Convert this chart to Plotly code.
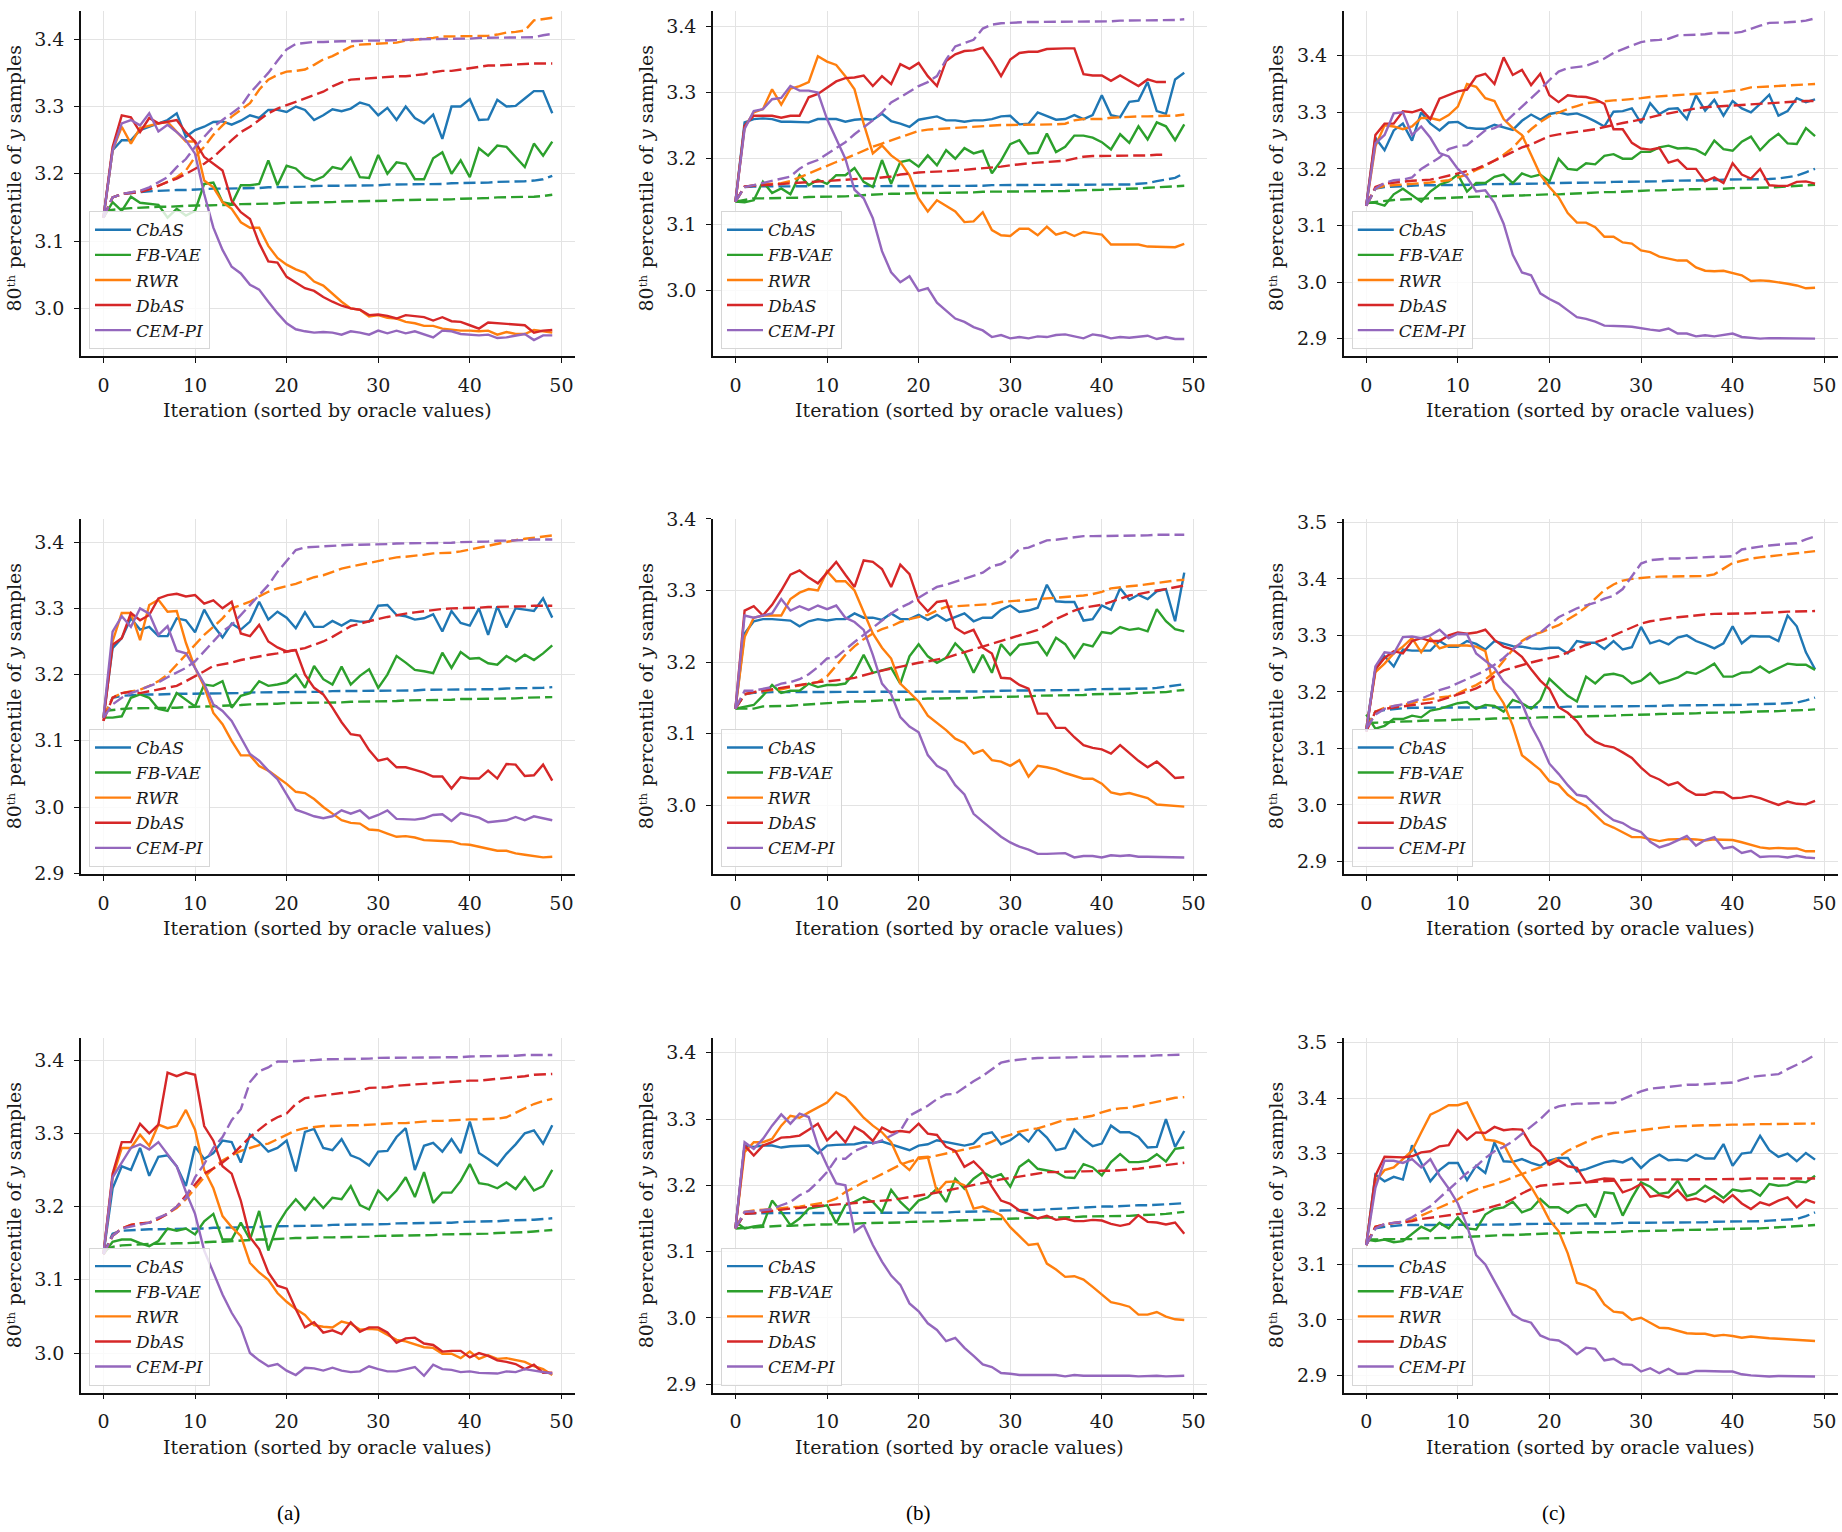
import plotly.graph_objects as go

W, H = 1842, 1532
METHODS = ["CbAS", "FB-VAE", "RWR", "DbAS", "CEM-PI"]
COLORS = ["#1f77b4", "#2ca02c", "#ff7f0e", "#d62728", "#9467bd"]
XTICKS = [0, 10, 20, 30, 40, 50]
PANEL_LABELS = ["(a)", "(b)", "(c)"]
Y_TITLE = "80ᵗʰ percentile of <i>y</i> samples"
X_TITLE = "Iteration (sorted by oracle values)"

# ---------------- panel 1 (row 1, col a) ----------------
p1_cbas = [3.135,3.235,3.250,3.250,3.265,3.270,3.275,3.280,3.290,3.255,3.265,3.270,3.277,3.278,3.273,3.279,3.287,3.283,3.295,3.295,3.292,3.300,3.295,3.280,3.287,3.296,3.293,3.297,3.306,3.302,3.287,3.298,3.280,3.300,3.283,3.275,3.288,3.252,3.300,3.300,3.311,3.280,3.281,3.310,3.300,3.301,3.312,3.323,3.323,3.290]
p1_fbvae = [3.135,3.158,3.145,3.166,3.157,3.156,3.154,3.135,3.148,3.138,3.145,3.185,3.187,3.158,3.155,3.183,3.183,3.185,3.220,3.183,3.212,3.208,3.195,3.190,3.196,3.210,3.207,3.224,3.195,3.194,3.228,3.200,3.217,3.215,3.192,3.192,3.223,3.232,3.200,3.220,3.195,3.238,3.227,3.242,3.240,3.225,3.210,3.245,3.227,3.248]
p1_rwr = [3.135,3.235,3.270,3.245,3.268,3.272,3.275,3.277,3.262,3.248,3.248,3.190,3.180,3.158,3.148,3.128,3.120,3.120,3.093,3.075,3.065,3.058,3.053,3.040,3.034,3.022,3.010,3.000,2.998,2.988,2.990,2.986,2.985,2.980,2.978,2.974,2.974,2.970,2.968,2.967,2.967,2.966,2.967,2.961,2.965,2.962,2.962,2.968,2.966,2.964]
p1_dbas = [3.135,3.240,3.287,3.284,3.262,3.283,3.275,3.278,3.280,3.262,3.248,3.225,3.215,3.205,3.160,3.143,3.133,3.097,3.070,3.068,3.047,3.038,3.030,3.026,3.017,3.010,3.004,3.000,2.998,2.990,2.991,2.989,2.985,2.990,2.988,2.987,2.982,2.987,2.981,2.980,2.975,2.970,2.979,2.978,2.976,2.976,2.975,2.964,2.967,2.968]
p1_cempi = [3.135,3.235,3.275,3.280,3.272,3.290,3.263,3.273,3.262,3.250,3.230,3.170,3.120,3.087,3.062,3.052,3.035,3.028,3.010,2.993,2.978,2.969,2.966,2.964,2.965,2.964,2.961,2.966,2.964,2.961,2.967,2.963,2.967,2.963,2.966,2.962,2.957,2.967,2.966,2.962,2.961,2.960,2.961,2.956,2.957,2.960,2.962,2.953,2.960,2.960]
p1_cbas_d = [3.135,3.165,3.170,3.172,3.173,3.174,3.175,3.175,3.176,3.176,3.177,3.177,3.178,3.178,3.178,3.179,3.179,3.179,3.180,3.180,3.181,3.181,3.181,3.182,3.182,3.182,3.182,3.183,3.183,3.183,3.183,3.184,3.184,3.184,3.185,3.185,3.185,3.185,3.186,3.186,3.186,3.187,3.187,3.188,3.188,3.189,3.189,3.190,3.192,3.197]
p1_fbvae_d = [3.145,3.147,3.148,3.149,3.150,3.150,3.151,3.151,3.152,3.152,3.153,3.153,3.153,3.154,3.154,3.155,3.155,3.156,3.156,3.156,3.157,3.157,3.157,3.158,3.158,3.158,3.159,3.159,3.159,3.160,3.160,3.160,3.161,3.161,3.161,3.162,3.162,3.162,3.162,3.163,3.163,3.164,3.164,3.165,3.165,3.165,3.166,3.166,3.167,3.169]
p1_rwr_d = [3.135,3.165,3.170,3.172,3.175,3.177,3.182,3.188,3.195,3.205,3.225,3.240,3.258,3.272,3.285,3.295,3.305,3.325,3.340,3.347,3.352,3.353,3.355,3.362,3.370,3.375,3.382,3.389,3.392,3.393,3.394,3.394,3.395,3.398,3.399,3.401,3.402,3.404,3.404,3.404,3.405,3.405,3.405,3.407,3.410,3.411,3.413,3.428,3.430,3.432]
p1_dbas_d = [3.135,3.165,3.170,3.172,3.173,3.177,3.182,3.188,3.193,3.200,3.208,3.215,3.225,3.238,3.250,3.262,3.270,3.280,3.290,3.297,3.302,3.307,3.312,3.317,3.322,3.330,3.336,3.340,3.341,3.342,3.344,3.345,3.345,3.345,3.346,3.348,3.351,3.353,3.353,3.355,3.357,3.359,3.361,3.361,3.362,3.362,3.363,3.364,3.364,3.364]
p1_cempi_d = [3.135,3.165,3.170,3.173,3.175,3.180,3.187,3.195,3.210,3.222,3.240,3.255,3.270,3.280,3.290,3.300,3.320,3.335,3.350,3.368,3.385,3.393,3.395,3.396,3.396,3.397,3.397,3.397,3.398,3.398,3.398,3.398,3.399,3.399,3.400,3.400,3.400,3.400,3.400,3.401,3.401,3.402,3.402,3.402,3.402,3.402,3.403,3.403,3.406,3.408]

# ---------------- panel 2 (row 1, col b) ----------------
p2_cbas = [3.135,3.255,3.260,3.261,3.260,3.256,3.256,3.256,3.255,3.260,3.260,3.260,3.256,3.259,3.260,3.259,3.268,3.257,3.253,3.248,3.259,3.262,3.264,3.258,3.258,3.256,3.258,3.258,3.260,3.264,3.265,3.252,3.253,3.270,3.264,3.259,3.260,3.266,3.260,3.266,3.296,3.266,3.263,3.286,3.288,3.316,3.272,3.268,3.320,3.330]
p2_fbvae = [3.135,3.134,3.137,3.165,3.148,3.155,3.146,3.175,3.160,3.168,3.162,3.175,3.175,3.186,3.165,3.157,3.198,3.162,3.195,3.198,3.188,3.205,3.190,3.213,3.200,3.216,3.208,3.212,3.178,3.197,3.222,3.228,3.208,3.209,3.238,3.210,3.218,3.235,3.235,3.232,3.225,3.214,3.237,3.224,3.249,3.229,3.255,3.249,3.228,3.252]
p2_rwr = [3.135,3.248,3.270,3.275,3.305,3.282,3.306,3.310,3.316,3.355,3.347,3.342,3.325,3.305,3.253,3.208,3.220,3.205,3.195,3.175,3.140,3.120,3.137,3.128,3.120,3.104,3.105,3.119,3.092,3.084,3.083,3.094,3.094,3.084,3.097,3.085,3.089,3.083,3.089,3.087,3.085,3.070,3.070,3.070,3.070,3.067,3.067,3.067,3.066,3.071]
p2_dbas = [3.135,3.250,3.265,3.265,3.265,3.262,3.265,3.265,3.293,3.298,3.308,3.317,3.322,3.323,3.326,3.310,3.325,3.313,3.343,3.336,3.345,3.325,3.310,3.348,3.358,3.363,3.364,3.368,3.348,3.325,3.350,3.360,3.362,3.362,3.366,3.367,3.367,3.367,3.328,3.326,3.326,3.318,3.326,3.318,3.310,3.320,3.316,3.316]
p2_cempi = [3.135,3.245,3.272,3.275,3.290,3.292,3.310,3.303,3.303,3.300,3.260,3.230,3.200,3.153,3.140,3.110,3.060,3.028,3.013,3.022,3.000,3.004,2.982,2.970,2.958,2.953,2.945,2.940,2.930,2.933,2.928,2.930,2.928,2.931,2.930,2.933,2.934,2.931,2.928,2.934,2.932,2.928,2.930,2.929,2.931,2.932,2.927,2.930,2.927,2.927]
p2_cbas_d = [3.135,3.157,3.158,3.158,3.158,3.159,3.159,3.159,3.159,3.159,3.159,3.159,3.159,3.159,3.159,3.159,3.159,3.159,3.159,3.159,3.159,3.159,3.159,3.159,3.159,3.159,3.159,3.159,3.160,3.160,3.160,3.160,3.160,3.160,3.160,3.160,3.160,3.160,3.160,3.161,3.161,3.161,3.161,3.161,3.162,3.163,3.166,3.168,3.171,3.178]
p2_fbvae_d = [3.135,3.138,3.140,3.140,3.140,3.141,3.141,3.141,3.142,3.142,3.142,3.143,3.143,3.144,3.145,3.146,3.146,3.147,3.147,3.148,3.148,3.148,3.148,3.149,3.149,3.149,3.149,3.150,3.150,3.150,3.150,3.150,3.151,3.151,3.151,3.151,3.151,3.152,3.152,3.152,3.153,3.154,3.154,3.155,3.155,3.156,3.157,3.158,3.158,3.159]
p2_rwr_d = [3.135,3.157,3.160,3.161,3.162,3.163,3.166,3.172,3.178,3.184,3.190,3.195,3.200,3.206,3.213,3.218,3.223,3.228,3.233,3.238,3.242,3.244,3.245,3.246,3.247,3.248,3.249,3.250,3.250,3.251,3.251,3.251,3.252,3.252,3.252,3.252,3.253,3.258,3.260,3.260,3.260,3.262,3.263,3.263,3.264,3.264,3.265,3.265,3.265,3.267]
p2_dbas_d = [3.135,3.158,3.159,3.160,3.160,3.161,3.162,3.163,3.164,3.165,3.166,3.167,3.168,3.169,3.170,3.170,3.171,3.173,3.176,3.178,3.179,3.180,3.180,3.181,3.182,3.183,3.184,3.185,3.186,3.188,3.190,3.192,3.193,3.194,3.195,3.196,3.197,3.200,3.203,3.204,3.204,3.204,3.204,3.204,3.205,3.205,3.206,3.206]
p2_cempi_d = [3.135,3.157,3.160,3.163,3.167,3.170,3.173,3.185,3.193,3.198,3.207,3.217,3.225,3.237,3.247,3.258,3.270,3.285,3.293,3.302,3.310,3.316,3.325,3.350,3.370,3.375,3.380,3.397,3.403,3.405,3.406,3.406,3.407,3.407,3.407,3.407,3.407,3.407,3.408,3.408,3.408,3.408,3.409,3.409,3.409,3.409,3.410,3.410,3.410,3.411]

# ---------------- panel 3 (row 1, col c) ----------------
p3_cbas = [3.135,3.255,3.233,3.268,3.280,3.250,3.300,3.280,3.268,3.282,3.283,3.273,3.271,3.271,3.278,3.273,3.269,3.285,3.296,3.287,3.297,3.300,3.296,3.298,3.292,3.284,3.275,3.301,3.302,3.307,3.281,3.316,3.297,3.306,3.307,3.288,3.330,3.303,3.322,3.294,3.320,3.307,3.300,3.315,3.331,3.294,3.302,3.325,3.318,3.323]
p3_fbvae = [3.140,3.140,3.135,3.155,3.165,3.153,3.142,3.160,3.172,3.178,3.190,3.160,3.175,3.175,3.186,3.190,3.175,3.192,3.186,3.190,3.178,3.218,3.200,3.198,3.210,3.208,3.223,3.226,3.218,3.218,3.230,3.230,3.238,3.241,3.236,3.237,3.234,3.225,3.250,3.235,3.232,3.248,3.257,3.233,3.250,3.262,3.245,3.244,3.272,3.258]
p3_rwr = [3.135,3.240,3.277,3.275,3.270,3.275,3.290,3.290,3.286,3.295,3.310,3.350,3.345,3.325,3.320,3.288,3.272,3.260,3.225,3.190,3.168,3.150,3.122,3.105,3.105,3.097,3.080,3.080,3.070,3.068,3.056,3.053,3.045,3.041,3.038,3.038,3.026,3.020,3.019,3.020,3.016,3.012,3.002,3.003,3.002,3.000,2.997,2.994,2.989,2.990]
p3_dbas = [3.135,3.260,3.280,3.280,3.302,3.300,3.305,3.288,3.324,3.330,3.337,3.340,3.363,3.368,3.350,3.397,3.366,3.375,3.348,3.368,3.330,3.318,3.330,3.328,3.327,3.323,3.315,3.270,3.270,3.246,3.236,3.234,3.237,3.211,3.216,3.200,3.200,3.178,3.185,3.175,3.210,3.190,3.183,3.200,3.171,3.170,3.170,3.177,3.178,3.174]
p3_cempi = [3.135,3.245,3.260,3.298,3.300,3.260,3.275,3.255,3.228,3.222,3.200,3.185,3.160,3.162,3.140,3.103,3.048,3.017,3.012,2.980,2.970,2.962,2.950,2.938,2.935,2.930,2.923,2.923,2.922,2.921,2.918,2.916,2.914,2.918,2.909,2.909,2.904,2.906,2.904,2.906,2.909,2.903,2.902,2.900,2.901,2.901,2.900,2.900,2.900,2.900]
p3_cbas_d = [3.135,3.165,3.168,3.169,3.170,3.170,3.171,3.171,3.171,3.172,3.172,3.172,3.172,3.173,3.173,3.173,3.173,3.174,3.174,3.174,3.175,3.175,3.175,3.175,3.176,3.176,3.176,3.177,3.177,3.177,3.178,3.178,3.178,3.179,3.179,3.180,3.180,3.180,3.180,3.181,3.181,3.181,3.181,3.182,3.182,3.183,3.185,3.188,3.194,3.200]
p3_fbvae_d = [3.140,3.142,3.143,3.145,3.146,3.147,3.147,3.148,3.148,3.149,3.150,3.150,3.151,3.151,3.152,3.152,3.153,3.153,3.154,3.154,3.155,3.155,3.156,3.156,3.157,3.158,3.159,3.159,3.160,3.161,3.162,3.162,3.162,3.163,3.163,3.164,3.164,3.164,3.165,3.165,3.166,3.166,3.166,3.167,3.167,3.168,3.169,3.170,3.171,3.172]
p3_rwr_d = [3.135,3.165,3.170,3.171,3.172,3.173,3.175,3.176,3.178,3.180,3.185,3.190,3.198,3.205,3.215,3.225,3.237,3.255,3.270,3.283,3.293,3.300,3.306,3.311,3.316,3.318,3.320,3.321,3.322,3.323,3.325,3.327,3.328,3.329,3.330,3.331,3.333,3.334,3.335,3.336,3.338,3.340,3.344,3.345,3.346,3.347,3.348,3.349,3.350,3.350]
p3_dbas_d = [3.135,3.168,3.174,3.176,3.178,3.179,3.180,3.181,3.184,3.188,3.192,3.196,3.200,3.207,3.214,3.222,3.230,3.238,3.243,3.250,3.258,3.261,3.263,3.265,3.267,3.270,3.274,3.278,3.281,3.284,3.287,3.291,3.295,3.298,3.302,3.305,3.307,3.309,3.310,3.311,3.312,3.314,3.315,3.316,3.317,3.318,3.318,3.319,3.320,3.320]
p3_cempi_d = [3.135,3.165,3.175,3.180,3.181,3.185,3.200,3.210,3.220,3.235,3.240,3.242,3.255,3.268,3.272,3.280,3.295,3.310,3.325,3.340,3.357,3.372,3.378,3.380,3.382,3.388,3.395,3.405,3.412,3.418,3.424,3.427,3.428,3.430,3.436,3.436,3.437,3.438,3.440,3.440,3.440,3.442,3.448,3.453,3.458,3.458,3.459,3.460,3.462,3.466]

# ---------------- panel 4 (row 2, col a) ----------------
p4_cbas = [3.135,3.240,3.255,3.285,3.268,3.272,3.258,3.258,3.285,3.282,3.264,3.298,3.274,3.256,3.277,3.268,3.280,3.310,3.283,3.295,3.286,3.270,3.294,3.272,3.272,3.281,3.274,3.282,3.280,3.280,3.304,3.305,3.290,3.288,3.283,3.285,3.291,3.265,3.296,3.278,3.274,3.300,3.260,3.303,3.271,3.300,3.298,3.296,3.315,3.286]
p4_fbvae = [3.135,3.135,3.137,3.165,3.170,3.165,3.148,3.145,3.172,3.162,3.152,3.185,3.183,3.190,3.150,3.168,3.172,3.190,3.183,3.185,3.188,3.200,3.180,3.213,3.193,3.185,3.212,3.185,3.198,3.208,3.180,3.200,3.228,3.218,3.207,3.205,3.202,3.233,3.210,3.234,3.224,3.225,3.217,3.215,3.228,3.220,3.230,3.222,3.232,3.244]
p4_rwr = [3.135,3.250,3.293,3.293,3.252,3.305,3.313,3.295,3.296,3.248,3.210,3.182,3.142,3.125,3.100,3.078,3.078,3.062,3.055,3.045,3.035,3.023,3.021,3.012,3.000,2.990,2.980,2.976,2.975,2.966,2.965,2.960,2.955,2.956,2.954,2.950,2.949,2.948,2.948,2.944,2.943,2.940,2.937,2.934,2.934,2.930,2.928,2.926,2.924,2.925]
p4_dbas = [3.130,3.245,3.255,3.293,3.282,3.290,3.315,3.320,3.322,3.318,3.320,3.307,3.312,3.300,3.310,3.262,3.258,3.275,3.250,3.241,3.235,3.237,3.200,3.180,3.170,3.150,3.128,3.110,3.108,3.086,3.070,3.073,3.060,3.060,3.056,3.052,3.046,3.046,3.028,3.045,3.043,3.043,3.055,3.043,3.065,3.064,3.047,3.048,3.064,3.040]
p4_cempi = [3.135,3.265,3.288,3.272,3.300,3.292,3.260,3.273,3.236,3.232,3.210,3.186,3.155,3.145,3.130,3.105,3.080,3.070,3.055,3.042,3.020,2.996,2.991,2.986,2.983,2.986,2.995,2.990,2.995,2.983,2.988,2.995,2.982,2.982,2.981,2.983,2.988,2.989,2.979,2.991,2.987,2.984,2.977,2.979,2.980,2.985,2.980,2.986,2.983,2.980]
p4_cbas_d = [3.135,3.165,3.168,3.169,3.170,3.170,3.170,3.171,3.171,3.171,3.171,3.172,3.172,3.172,3.172,3.172,3.173,3.173,3.173,3.173,3.174,3.174,3.174,3.174,3.174,3.175,3.175,3.175,3.175,3.175,3.176,3.176,3.176,3.176,3.176,3.177,3.177,3.177,3.177,3.177,3.178,3.178,3.178,3.178,3.179,3.179,3.179,3.180,3.180,3.181]
p4_fbvae_d = [3.145,3.147,3.148,3.149,3.149,3.150,3.150,3.150,3.150,3.151,3.151,3.152,3.152,3.153,3.153,3.154,3.155,3.155,3.156,3.156,3.157,3.157,3.157,3.158,3.158,3.158,3.158,3.159,3.159,3.159,3.160,3.160,3.160,3.161,3.161,3.162,3.162,3.162,3.162,3.163,3.163,3.163,3.163,3.164,3.164,3.164,3.165,3.165,3.165,3.166]
p4_rwr_d = [3.135,3.165,3.172,3.175,3.177,3.183,3.190,3.200,3.215,3.230,3.245,3.260,3.272,3.285,3.300,3.305,3.310,3.318,3.325,3.330,3.333,3.337,3.342,3.347,3.350,3.355,3.360,3.363,3.366,3.369,3.372,3.374,3.377,3.378,3.379,3.381,3.383,3.383,3.384,3.386,3.389,3.392,3.395,3.398,3.401,3.403,3.405,3.407,3.408,3.410]
p4_dbas_d = [3.130,3.165,3.172,3.174,3.172,3.175,3.178,3.180,3.183,3.190,3.197,3.205,3.213,3.215,3.218,3.222,3.225,3.228,3.230,3.232,3.235,3.237,3.240,3.245,3.250,3.257,3.265,3.273,3.277,3.281,3.284,3.287,3.290,3.292,3.294,3.296,3.298,3.299,3.300,3.300,3.301,3.301,3.302,3.302,3.303,3.303,3.303,3.304,3.304,3.304]
p4_cempi_d = [3.135,3.155,3.165,3.172,3.177,3.182,3.188,3.196,3.203,3.210,3.220,3.235,3.250,3.265,3.275,3.290,3.305,3.320,3.335,3.355,3.372,3.388,3.392,3.393,3.394,3.395,3.395,3.396,3.396,3.396,3.397,3.397,3.398,3.398,3.398,3.399,3.399,3.399,3.399,3.400,3.400,3.401,3.401,3.402,3.402,3.402,3.403,3.404,3.404,3.404]

# ---------------- panel 5 (row 2, col b) ----------------
p5_cbas = [3.135,3.240,3.257,3.260,3.260,3.259,3.258,3.250,3.257,3.260,3.258,3.260,3.260,3.268,3.262,3.262,3.259,3.268,3.260,3.260,3.266,3.259,3.266,3.258,3.263,3.268,3.257,3.262,3.262,3.273,3.279,3.270,3.272,3.276,3.308,3.285,3.284,3.284,3.258,3.260,3.279,3.273,3.303,3.287,3.294,3.288,3.299,3.302,3.257,3.325]
p5_fbvae = [3.135,3.138,3.140,3.153,3.168,3.157,3.160,3.160,3.170,3.165,3.168,3.168,3.170,3.185,3.210,3.185,3.188,3.192,3.170,3.208,3.225,3.208,3.199,3.206,3.226,3.213,3.185,3.210,3.185,3.225,3.210,3.224,3.226,3.228,3.210,3.234,3.225,3.206,3.225,3.222,3.242,3.240,3.249,3.245,3.247,3.243,3.274,3.257,3.246,3.243]
p5_rwr = [3.135,3.235,3.262,3.265,3.265,3.265,3.288,3.297,3.302,3.300,3.327,3.313,3.313,3.300,3.270,3.240,3.220,3.205,3.170,3.158,3.145,3.125,3.115,3.105,3.093,3.087,3.072,3.077,3.063,3.061,3.055,3.063,3.040,3.055,3.053,3.050,3.045,3.041,3.037,3.037,3.030,3.018,3.015,3.017,3.014,3.010,3.001,3.000,2.998,2.998]
p5_dbas = [3.135,3.272,3.278,3.265,3.280,3.300,3.322,3.328,3.318,3.310,3.325,3.340,3.322,3.305,3.342,3.340,3.330,3.305,3.336,3.323,3.285,3.271,3.284,3.286,3.248,3.240,3.245,3.220,3.212,3.178,3.177,3.168,3.163,3.128,3.128,3.108,3.108,3.095,3.084,3.080,3.078,3.072,3.084,3.073,3.062,3.053,3.061,3.050,3.038,3.039]
p5_cempi = [3.135,3.265,3.262,3.265,3.268,3.288,3.272,3.278,3.273,3.279,3.274,3.279,3.262,3.256,3.245,3.210,3.170,3.155,3.123,3.110,3.102,3.070,3.055,3.048,3.028,3.015,2.988,2.977,2.967,2.956,2.948,2.942,2.938,2.932,2.932,2.932,2.933,2.927,2.929,2.929,2.927,2.930,2.929,2.930,2.928,2.928,2.928,2.927,2.927,2.927]
p5_cbas_d = [3.135,3.155,3.157,3.158,3.158,3.158,3.158,3.158,3.158,3.158,3.158,3.158,3.158,3.158,3.158,3.158,3.158,3.158,3.158,3.158,3.158,3.159,3.159,3.159,3.159,3.159,3.159,3.159,3.159,3.160,3.160,3.160,3.160,3.160,3.160,3.161,3.161,3.161,3.161,3.162,3.162,3.162,3.162,3.163,3.163,3.163,3.164,3.166,3.168,3.169]
p5_fbvae_d = [3.135,3.135,3.135,3.138,3.138,3.139,3.139,3.140,3.141,3.142,3.143,3.144,3.144,3.145,3.145,3.146,3.146,3.147,3.147,3.148,3.148,3.149,3.149,3.149,3.150,3.150,3.150,3.151,3.151,3.151,3.152,3.152,3.152,3.153,3.153,3.153,3.154,3.154,3.154,3.155,3.155,3.155,3.156,3.156,3.157,3.157,3.158,3.158,3.160,3.161]
p5_rwr_d = [3.135,3.155,3.158,3.160,3.161,3.162,3.165,3.168,3.170,3.172,3.180,3.195,3.210,3.222,3.232,3.240,3.246,3.250,3.256,3.260,3.263,3.266,3.272,3.277,3.278,3.279,3.280,3.280,3.281,3.284,3.285,3.285,3.286,3.287,3.288,3.289,3.290,3.291,3.293,3.295,3.298,3.303,3.305,3.306,3.307,3.309,3.311,3.313,3.314,3.315]
p5_dbas_d = [3.135,3.155,3.158,3.160,3.162,3.165,3.167,3.168,3.170,3.172,3.173,3.174,3.176,3.178,3.182,3.185,3.188,3.191,3.194,3.196,3.199,3.201,3.203,3.206,3.210,3.214,3.218,3.222,3.226,3.230,3.234,3.238,3.241,3.245,3.252,3.260,3.266,3.272,3.276,3.278,3.280,3.284,3.289,3.293,3.295,3.298,3.300,3.302,3.304,3.307]
p5_cempi_d = [3.135,3.160,3.160,3.162,3.165,3.170,3.172,3.176,3.183,3.193,3.205,3.207,3.218,3.228,3.238,3.248,3.258,3.268,3.276,3.282,3.290,3.297,3.305,3.308,3.312,3.316,3.320,3.325,3.334,3.337,3.345,3.358,3.360,3.365,3.370,3.371,3.373,3.375,3.376,3.376,3.376,3.376,3.377,3.377,3.377,3.377,3.378,3.378,3.378,3.378]

# ---------------- panel 6 (row 2, col c) ----------------
p6_cbas = [3.135,3.240,3.263,3.245,3.275,3.273,3.273,3.273,3.290,3.280,3.280,3.290,3.285,3.275,3.290,3.286,3.281,3.280,3.277,3.276,3.278,3.278,3.268,3.290,3.287,3.287,3.276,3.290,3.275,3.279,3.315,3.286,3.291,3.284,3.296,3.300,3.290,3.284,3.277,3.286,3.316,3.286,3.299,3.298,3.298,3.290,3.335,3.316,3.270,3.240]
p6_fbvae = [3.160,3.135,3.140,3.152,3.152,3.158,3.155,3.167,3.170,3.175,3.180,3.182,3.170,3.177,3.175,3.165,3.186,3.180,3.170,3.185,3.223,3.208,3.193,3.183,3.227,3.215,3.230,3.232,3.228,3.215,3.220,3.233,3.215,3.220,3.225,3.235,3.232,3.240,3.250,3.227,3.227,3.234,3.235,3.245,3.234,3.242,3.250,3.248,3.248,3.239]
p6_rwr = [3.135,3.235,3.250,3.268,3.280,3.295,3.270,3.295,3.277,3.282,3.282,3.282,3.280,3.272,3.205,3.180,3.140,3.088,3.075,3.062,3.042,3.036,3.018,3.006,2.998,2.982,2.967,2.960,2.952,2.943,2.943,2.940,2.936,2.939,2.940,2.940,2.939,2.937,2.939,2.939,2.938,2.934,2.930,2.925,2.923,2.924,2.923,2.923,2.918,2.918]
p6_dbas = [3.130,3.240,3.260,3.272,3.268,3.290,3.295,3.290,3.290,3.300,3.305,3.303,3.305,3.310,3.292,3.280,3.275,3.262,3.240,3.220,3.205,3.173,3.163,3.148,3.125,3.112,3.105,3.102,3.093,3.083,3.066,3.052,3.045,3.035,3.040,3.027,3.018,3.018,3.023,3.022,3.012,3.013,3.016,3.012,3.006,3.000,3.006,3.002,3.001,3.007]
p6_cempi = [3.130,3.245,3.270,3.268,3.297,3.298,3.295,3.300,3.310,3.295,3.303,3.302,3.268,3.255,3.242,3.218,3.203,3.180,3.140,3.110,3.073,3.055,3.035,3.018,3.015,3.000,2.985,2.973,2.968,2.958,2.952,2.935,2.925,2.930,2.937,2.945,2.928,2.938,2.943,2.923,2.926,2.915,2.919,2.908,2.909,2.909,2.907,2.910,2.907,2.906]
p6_cbas_d = [3.135,3.165,3.168,3.170,3.171,3.172,3.172,3.172,3.173,3.173,3.173,3.173,3.173,3.173,3.173,3.173,3.173,3.173,3.173,3.173,3.173,3.173,3.174,3.174,3.174,3.174,3.174,3.174,3.175,3.175,3.175,3.175,3.175,3.176,3.176,3.176,3.176,3.176,3.177,3.177,3.177,3.177,3.178,3.178,3.178,3.179,3.180,3.181,3.185,3.190]
p6_fbvae_d = [3.145,3.145,3.146,3.147,3.147,3.148,3.149,3.149,3.150,3.150,3.151,3.151,3.152,3.152,3.153,3.153,3.153,3.154,3.154,3.155,3.155,3.156,3.156,3.156,3.157,3.157,3.158,3.158,3.159,3.159,3.160,3.160,3.161,3.161,3.162,3.162,3.162,3.163,3.163,3.164,3.164,3.164,3.165,3.165,3.166,3.166,3.167,3.167,3.168,3.169]
p6_rwr_d = [3.135,3.165,3.172,3.175,3.177,3.180,3.185,3.188,3.190,3.192,3.197,3.205,3.212,3.222,3.235,3.255,3.275,3.290,3.300,3.305,3.312,3.318,3.328,3.338,3.350,3.365,3.380,3.390,3.397,3.400,3.402,3.403,3.404,3.404,3.404,3.405,3.405,3.405,3.408,3.418,3.428,3.432,3.436,3.438,3.440,3.441,3.443,3.446,3.448,3.449]
p6_dbas_d = [3.130,3.165,3.170,3.172,3.174,3.176,3.178,3.181,3.185,3.190,3.195,3.200,3.206,3.215,3.228,3.238,3.243,3.248,3.252,3.256,3.259,3.263,3.270,3.277,3.283,3.288,3.293,3.300,3.307,3.315,3.321,3.325,3.328,3.330,3.332,3.334,3.336,3.337,3.338,3.338,3.338,3.339,3.339,3.340,3.340,3.341,3.342,3.342,3.343,3.343]
p6_cempi_d = [3.135,3.160,3.170,3.175,3.178,3.183,3.188,3.195,3.203,3.208,3.215,3.222,3.230,3.238,3.248,3.260,3.275,3.288,3.298,3.305,3.318,3.332,3.340,3.348,3.353,3.358,3.365,3.370,3.382,3.405,3.427,3.433,3.435,3.436,3.436,3.437,3.437,3.438,3.439,3.439,3.440,3.452,3.455,3.457,3.459,3.461,3.462,3.463,3.470,3.475]

# ---------------- panel 7 (row 3, col a) ----------------
p7_cbas = [3.135,3.225,3.255,3.250,3.280,3.242,3.268,3.270,3.255,3.228,3.282,3.265,3.273,3.290,3.288,3.260,3.298,3.288,3.275,3.280,3.290,3.248,3.302,3.306,3.280,3.277,3.292,3.270,3.265,3.256,3.275,3.276,3.295,3.307,3.250,3.283,3.287,3.275,3.292,3.273,3.316,3.273,3.265,3.256,3.272,3.285,3.300,3.304,3.286,3.311]
p7_fbvae = [3.135,3.152,3.155,3.155,3.150,3.146,3.153,3.170,3.167,3.170,3.162,3.180,3.190,3.155,3.155,3.178,3.155,3.194,3.140,3.175,3.195,3.210,3.196,3.212,3.198,3.212,3.210,3.228,3.202,3.196,3.222,3.209,3.222,3.240,3.213,3.247,3.205,3.219,3.219,3.235,3.258,3.232,3.230,3.225,3.233,3.224,3.240,3.222,3.228,3.250]
p7_rwr = [3.135,3.240,3.280,3.280,3.298,3.283,3.312,3.307,3.310,3.332,3.305,3.250,3.225,3.187,3.172,3.160,3.123,3.110,3.100,3.082,3.070,3.060,3.052,3.038,3.036,3.035,3.043,3.040,3.032,3.033,3.032,3.025,3.018,3.016,3.012,3.008,3.007,2.999,2.999,2.993,3.002,2.992,2.997,2.992,2.993,2.990,2.988,2.982,2.978,2.970]
p7_dbas = [3.135,3.245,3.288,3.288,3.313,3.300,3.312,3.383,3.378,3.383,3.380,3.310,3.290,3.255,3.245,3.208,3.158,3.142,3.110,3.092,3.088,3.060,3.035,3.042,3.028,3.031,3.026,3.042,3.029,3.035,3.035,3.028,3.014,3.020,3.021,3.013,3.011,3.002,3.003,3.003,2.994,3.000,2.996,2.990,2.988,2.985,2.978,2.984,2.973,2.973]
p7_cempi = [3.135,3.240,3.260,3.280,3.285,3.278,3.288,3.272,3.255,3.220,3.190,3.140,3.110,3.080,3.055,3.035,3.000,2.990,2.982,2.985,2.976,2.970,2.980,2.979,2.976,2.980,2.976,2.974,2.975,2.982,2.978,2.975,2.975,2.978,2.981,2.969,2.984,2.978,2.977,2.974,2.975,2.973,2.973,2.972,2.975,2.974,2.978,2.976,2.973,2.972]
p7_cbas_d = [3.135,3.163,3.167,3.168,3.169,3.169,3.169,3.169,3.170,3.170,3.170,3.170,3.171,3.171,3.171,3.172,3.172,3.172,3.173,3.173,3.173,3.173,3.174,3.174,3.174,3.175,3.175,3.175,3.175,3.176,3.176,3.176,3.177,3.177,3.177,3.178,3.178,3.178,3.178,3.179,3.179,3.179,3.180,3.180,3.181,3.181,3.182,3.182,3.183,3.184]
p7_fbvae_d = [3.140,3.145,3.147,3.148,3.148,3.149,3.149,3.150,3.150,3.150,3.151,3.151,3.152,3.152,3.153,3.154,3.154,3.155,3.155,3.156,3.157,3.157,3.157,3.158,3.158,3.158,3.158,3.159,3.159,3.159,3.160,3.160,3.160,3.160,3.161,3.161,3.161,3.162,3.162,3.162,3.163,3.163,3.163,3.164,3.164,3.165,3.165,3.166,3.167,3.168]
p7_rwr_d = [3.135,3.160,3.170,3.175,3.177,3.178,3.183,3.190,3.198,3.210,3.225,3.240,3.252,3.263,3.270,3.276,3.280,3.284,3.286,3.292,3.298,3.304,3.307,3.309,3.310,3.310,3.311,3.311,3.311,3.312,3.312,3.313,3.314,3.314,3.315,3.316,3.317,3.317,3.318,3.318,3.319,3.319,3.319,3.320,3.322,3.328,3.333,3.340,3.344,3.347]
p7_dbas_d = [3.135,3.160,3.170,3.175,3.177,3.178,3.183,3.190,3.200,3.215,3.230,3.245,3.252,3.260,3.270,3.282,3.295,3.305,3.315,3.322,3.327,3.340,3.348,3.350,3.352,3.354,3.355,3.356,3.358,3.362,3.362,3.363,3.365,3.366,3.366,3.367,3.368,3.369,3.370,3.371,3.372,3.372,3.373,3.374,3.375,3.377,3.378,3.380,3.381,3.381]
p7_cempi_d = [3.135,3.160,3.170,3.173,3.175,3.178,3.185,3.190,3.200,3.212,3.240,3.258,3.280,3.295,3.318,3.333,3.370,3.385,3.390,3.398,3.398,3.399,3.399,3.400,3.401,3.401,3.401,3.402,3.402,3.402,3.403,3.403,3.403,3.403,3.404,3.404,3.404,3.404,3.404,3.404,3.405,3.405,3.405,3.405,3.406,3.406,3.407,3.407,3.407,3.407]

# ---------------- panel 8 (row 3, col b) ----------------
p8_cbas = [3.135,3.260,3.258,3.260,3.260,3.257,3.259,3.260,3.260,3.248,3.260,3.261,3.262,3.262,3.265,3.264,3.266,3.262,3.258,3.253,3.260,3.262,3.268,3.265,3.262,3.260,3.263,3.277,3.280,3.262,3.268,3.278,3.266,3.285,3.272,3.253,3.256,3.284,3.270,3.259,3.263,3.290,3.280,3.280,3.273,3.257,3.258,3.300,3.258,3.282]
p8_fbvae = [3.145,3.135,3.138,3.140,3.177,3.160,3.140,3.150,3.165,3.168,3.170,3.143,3.170,3.175,3.182,3.175,3.160,3.193,3.175,3.162,3.177,3.182,3.195,3.175,3.210,3.195,3.210,3.220,3.212,3.217,3.198,3.228,3.238,3.225,3.222,3.220,3.212,3.211,3.232,3.227,3.215,3.235,3.247,3.235,3.235,3.237,3.247,3.236,3.255,3.257]
p8_rwr = [3.135,3.250,3.265,3.265,3.270,3.290,3.305,3.302,3.310,3.318,3.325,3.340,3.333,3.318,3.302,3.290,3.280,3.265,3.235,3.223,3.242,3.243,3.190,3.205,3.206,3.200,3.165,3.168,3.162,3.155,3.137,3.123,3.110,3.112,3.082,3.073,3.062,3.063,3.058,3.047,3.035,3.024,3.021,3.017,3.005,3.005,3.009,3.002,2.998,2.997]
p8_dbas = [3.135,3.260,3.245,3.260,3.265,3.272,3.273,3.275,3.284,3.293,3.268,3.281,3.265,3.288,3.280,3.267,3.287,3.280,3.282,3.280,3.293,3.278,3.276,3.258,3.252,3.228,3.236,3.222,3.198,3.177,3.172,3.162,3.157,3.150,3.154,3.148,3.150,3.146,3.146,3.148,3.147,3.142,3.139,3.142,3.155,3.145,3.144,3.141,3.144,3.127]
p8_cempi = [3.135,3.265,3.255,3.270,3.290,3.307,3.293,3.308,3.303,3.260,3.230,3.203,3.200,3.130,3.140,3.110,3.085,3.064,3.050,3.022,3.010,2.992,2.982,2.965,2.970,2.955,2.943,2.930,2.926,2.917,2.916,2.914,2.914,2.914,2.913,2.914,2.912,2.914,2.913,2.913,2.913,2.913,2.914,2.913,2.912,2.913,2.913,2.912,2.912,2.913]
p8_cbas_d = [3.135,3.157,3.158,3.158,3.158,3.158,3.158,3.158,3.158,3.158,3.158,3.158,3.158,3.158,3.158,3.158,3.158,3.158,3.159,3.159,3.159,3.159,3.159,3.159,3.160,3.160,3.160,3.161,3.161,3.162,3.162,3.162,3.163,3.163,3.164,3.164,3.165,3.166,3.167,3.167,3.168,3.168,3.169,3.169,3.170,3.170,3.171,3.172,3.172,3.173]
p8_fbvae_d = [3.135,3.136,3.137,3.138,3.138,3.139,3.139,3.140,3.140,3.141,3.141,3.141,3.142,3.142,3.143,3.143,3.143,3.144,3.144,3.145,3.145,3.145,3.146,3.146,3.147,3.147,3.148,3.148,3.149,3.149,3.150,3.150,3.151,3.151,3.152,3.152,3.152,3.152,3.153,3.153,3.153,3.154,3.154,3.154,3.155,3.155,3.156,3.157,3.159,3.160]
p8_rwr_d = [3.135,3.160,3.162,3.163,3.165,3.166,3.167,3.168,3.170,3.172,3.175,3.180,3.190,3.197,3.205,3.210,3.217,3.225,3.231,3.236,3.240,3.242,3.245,3.248,3.250,3.253,3.256,3.260,3.266,3.272,3.276,3.281,3.284,3.286,3.290,3.295,3.299,3.300,3.302,3.305,3.310,3.314,3.316,3.317,3.320,3.323,3.326,3.330,3.332,3.333]
p8_dbas_d = [3.135,3.157,3.158,3.160,3.161,3.163,3.165,3.166,3.168,3.169,3.170,3.171,3.172,3.173,3.174,3.175,3.177,3.178,3.180,3.182,3.184,3.186,3.189,3.192,3.195,3.198,3.200,3.203,3.206,3.209,3.211,3.213,3.215,3.218,3.220,3.220,3.221,3.221,3.221,3.222,3.222,3.222,3.223,3.223,3.225,3.227,3.229,3.230,3.232,3.234]
p8_cempi_d = [3.135,3.160,3.161,3.162,3.164,3.170,3.175,3.185,3.192,3.205,3.220,3.240,3.240,3.252,3.258,3.263,3.268,3.275,3.282,3.305,3.313,3.320,3.330,3.337,3.338,3.348,3.357,3.365,3.375,3.385,3.388,3.390,3.391,3.392,3.392,3.393,3.393,3.393,3.394,3.394,3.394,3.395,3.395,3.395,3.395,3.395,3.396,3.396,3.396,3.397]

# ---------------- panel 9 (row 3, col c) ----------------
p9_cbas = [3.135,3.262,3.250,3.258,3.253,3.315,3.283,3.250,3.270,3.283,3.283,3.252,3.278,3.265,3.320,3.286,3.285,3.290,3.283,3.278,3.287,3.292,3.292,3.268,3.272,3.278,3.284,3.287,3.284,3.292,3.274,3.289,3.298,3.288,3.289,3.287,3.298,3.291,3.291,3.317,3.278,3.300,3.302,3.332,3.306,3.294,3.300,3.286,3.301,3.289]
p9_fbvae = [3.145,3.142,3.145,3.140,3.142,3.155,3.168,3.160,3.175,3.165,3.185,3.165,3.163,3.190,3.200,3.203,3.213,3.194,3.200,3.218,3.203,3.203,3.193,3.205,3.208,3.185,3.230,3.228,3.188,3.220,3.248,3.240,3.227,3.230,3.251,3.223,3.228,3.242,3.232,3.220,3.235,3.232,3.234,3.224,3.245,3.242,3.243,3.250,3.248,3.260]
p9_rwr = [3.135,3.250,3.270,3.275,3.290,3.305,3.338,3.370,3.378,3.387,3.387,3.392,3.358,3.325,3.323,3.317,3.285,3.262,3.240,3.212,3.180,3.160,3.120,3.067,3.062,3.053,3.028,3.015,3.013,3.000,3.004,2.995,2.986,2.985,2.980,2.976,2.975,2.975,2.971,2.973,2.971,2.968,2.970,2.968,2.967,2.966,2.965,2.965,2.963,2.962]
p9_dbas = [3.135,3.260,3.294,3.293,3.293,3.295,3.302,3.304,3.313,3.315,3.342,3.325,3.338,3.337,3.348,3.342,3.344,3.343,3.315,3.303,3.280,3.288,3.277,3.274,3.248,3.252,3.255,3.254,3.230,3.236,3.245,3.222,3.225,3.221,3.234,3.216,3.219,3.213,3.223,3.212,3.225,3.210,3.200,3.212,3.207,3.215,3.221,3.203,3.217,3.211]
p9_cempi = [3.135,3.238,3.287,3.287,3.283,3.290,3.275,3.290,3.260,3.237,3.210,3.170,3.117,3.100,3.070,3.040,3.010,3.000,2.995,2.972,2.965,2.963,2.953,2.938,2.950,2.948,2.927,2.930,2.920,2.919,2.907,2.913,2.904,2.912,2.903,2.903,2.908,2.908,2.907,2.907,2.907,2.902,2.900,2.899,2.898,2.899,2.899,2.899,2.898,2.898]
p9_cbas_d = [3.135,3.165,3.168,3.170,3.171,3.171,3.171,3.171,3.172,3.172,3.172,3.172,3.172,3.172,3.172,3.172,3.172,3.173,3.173,3.173,3.173,3.173,3.173,3.174,3.174,3.174,3.174,3.174,3.175,3.175,3.175,3.175,3.175,3.176,3.176,3.176,3.176,3.176,3.177,3.177,3.177,3.178,3.178,3.178,3.179,3.180,3.181,3.182,3.187,3.194]
p9_fbvae_d = [3.145,3.145,3.145,3.145,3.146,3.146,3.147,3.147,3.148,3.148,3.149,3.150,3.150,3.151,3.152,3.153,3.153,3.154,3.155,3.155,3.156,3.156,3.157,3.157,3.158,3.158,3.158,3.159,3.159,3.160,3.160,3.160,3.161,3.161,3.162,3.162,3.162,3.163,3.163,3.164,3.164,3.164,3.165,3.165,3.166,3.167,3.167,3.168,3.170,3.171]
p9_rwr_d = [3.135,3.168,3.172,3.175,3.177,3.180,3.188,3.195,3.203,3.210,3.217,3.228,3.235,3.240,3.245,3.250,3.257,3.263,3.268,3.275,3.282,3.293,3.305,3.313,3.321,3.328,3.333,3.337,3.338,3.340,3.343,3.345,3.347,3.348,3.349,3.350,3.350,3.351,3.351,3.352,3.352,3.352,3.353,3.353,3.353,3.353,3.354,3.354,3.354,3.354]
p9_dbas_d = [3.135,3.168,3.172,3.175,3.176,3.178,3.182,3.184,3.186,3.188,3.190,3.193,3.196,3.200,3.205,3.210,3.218,3.228,3.236,3.242,3.244,3.245,3.246,3.247,3.248,3.250,3.251,3.252,3.252,3.253,3.253,3.253,3.253,3.253,3.254,3.254,3.254,3.254,3.254,3.254,3.254,3.254,3.255,3.255,3.255,3.255,3.255,3.255,3.255,3.255]
p9_cempi_d = [3.135,3.165,3.173,3.175,3.177,3.185,3.195,3.205,3.220,3.235,3.250,3.265,3.277,3.292,3.304,3.312,3.322,3.335,3.348,3.362,3.378,3.385,3.388,3.390,3.390,3.391,3.391,3.391,3.398,3.405,3.412,3.417,3.418,3.420,3.422,3.424,3.424,3.425,3.426,3.427,3.428,3.433,3.438,3.440,3.441,3.443,3.452,3.460,3.468,3.478]

PANELS = [
    ([p1_cbas, p1_fbvae, p1_rwr, p1_dbas, p1_cempi], [p1_cbas_d, p1_fbvae_d, p1_rwr_d, p1_dbas_d, p1_cempi_d]),
    ([p2_cbas, p2_fbvae, p2_rwr, p2_dbas, p2_cempi], [p2_cbas_d, p2_fbvae_d, p2_rwr_d, p2_dbas_d, p2_cempi_d]),
    ([p3_cbas, p3_fbvae, p3_rwr, p3_dbas, p3_cempi], [p3_cbas_d, p3_fbvae_d, p3_rwr_d, p3_dbas_d, p3_cempi_d]),
    ([p4_cbas, p4_fbvae, p4_rwr, p4_dbas, p4_cempi], [p4_cbas_d, p4_fbvae_d, p4_rwr_d, p4_dbas_d, p4_cempi_d]),
    ([p5_cbas, p5_fbvae, p5_rwr, p5_dbas, p5_cempi], [p5_cbas_d, p5_fbvae_d, p5_rwr_d, p5_dbas_d, p5_cempi_d]),
    ([p6_cbas, p6_fbvae, p6_rwr, p6_dbas, p6_cempi], [p6_cbas_d, p6_fbvae_d, p6_rwr_d, p6_dbas_d, p6_cempi_d]),
    ([p7_cbas, p7_fbvae, p7_rwr, p7_dbas, p7_cempi], [p7_cbas_d, p7_fbvae_d, p7_rwr_d, p7_dbas_d, p7_cempi_d]),
    ([p8_cbas, p8_fbvae, p8_rwr, p8_dbas, p8_cempi], [p8_cbas_d, p8_fbvae_d, p8_rwr_d, p8_dbas_d, p8_cempi_d]),
    ([p9_cbas, p9_fbvae, p9_rwr, p9_dbas, p9_cempi], [p9_cbas_d, p9_fbvae_d, p9_rwr_d, p9_dbas_d, p9_cempi_d]),
]

# y-axis ranges for each panel (row-1 tops trimmed to the visible part)
Y_RANGES = [
    [2.929, 3.442], [2.901, 3.4236], [2.869, 3.479],
    [2.899, 3.435], [2.904, 3.400], [2.878, 3.506],
    [2.946, 3.430], [2.8875, 3.422], [2.869, 3.508],
]
X_RANGE = [-2.45, 51.45]

# pixel geometry of the plot areas (page pixels)
COL_PX = [(81.0, 574.7), (713.0, 1206.7), (1343.8, 1837.5)]
ROW_PX = [(0, 350.0), (515.0, 874.9), (1041.4, 1400.8)]
XTITLE_Y = [404.7, 929.7, 1455.6]
YTITLE_Y = [169.8, 694.9, 1221.1]
LEGEND_BOTTOM = [342.9, 867.8, 1393.7]
LABEL_Y = 1523

FONT = "DejaVu Serif"
TXT = "#1a1a1a"

fig = go.Figure()
layout = dict(
    width=W, height=H, autosize=False, margin=dict(l=0, r=0, t=0, b=0, pad=0),
    paper_bgcolor="white", plot_bgcolor="white",
    font=dict(family=FONT, size=19, color=TXT),
    annotations=[],
)

for k, (solid, dashed) in enumerate(PANELS):
    r, c = divmod(k, 3)
    n = k + 1
    xa = "x" if n == 1 else f"x{n}"
    ya = "y" if n == 1 else f"y{n}"
    leg = "legend" if n == 1 else f"legend{n}"
    for m in range(5):
        vals = solid[m]
        fig.add_trace(go.Scatter(
            x=list(range(len(vals))), y=vals, mode="lines",
            name=f"<i>{METHODS[m]}</i>", line=dict(color=COLORS[m], width=2.4),
            xaxis=xa, yaxis=ya, legend=leg, showlegend=True, hoverinfo="skip"))
        dv = dashed[m]
        fig.add_trace(go.Scatter(
            x=list(range(len(dv))), y=dv, mode="lines",
            name=f"{METHODS[m]} (ref)", line=dict(color=COLORS[m], width=2.4, dash="12px,5px"),
            xaxis=xa, yaxis=ya, legend=leg, showlegend=False, hoverinfo="skip"))

    x0, x1 = COL_PX[c]
    y0, y1 = ROW_PX[r]
    xkey = "xaxis" if n == 1 else f"xaxis{n}"
    ykey = "yaxis" if n == 1 else f"yaxis{n}"
    common = dict(showgrid=True, gridcolor="#e3e3e3", gridwidth=1.2, zeroline=False,
                  showline=True, linecolor="#111111", linewidth=1.6,
                  ticks="outside", ticklen=5, tickwidth=1.3, tickcolor="#111111",
                  tickfont=dict(family=FONT, size=19, color=TXT), mirror=False)
    layout[xkey] = dict(domain=[x0 / W, x1 / W], range=X_RANGE, anchor=ya,
                        tickmode="array", tickvals=XTICKS, ticklabelstandoff=6, **common)
    layout[ykey] = dict(domain=[1 - y1 / H, 1 - y0 / H], range=Y_RANGES[k], anchor=xa,
                        tickmode="linear", tick0=0, dtick=0.1, tickformat=".1f",
                        ticklabelstandoff=6, **common)
    layout[leg] = dict(x=(x0 + 8) / W, y=1 - LEGEND_BOTTOM[r] / H, xanchor="left", yanchor="bottom",
                       xref="paper", yref="paper", itemwidth=36,
                       bgcolor="rgba(255,255,255,0.8)", bordercolor="#d6d6d6", borderwidth=1,
                       font=dict(family=FONT, size=17, color=TXT), traceorder="normal")
    # axis titles
    layout["annotations"].append(dict(
        text=Y_TITLE, textangle=-90,
        x=(x0 - 67) / W, y=1 - YTITLE_Y[r] / H, xref="paper", yref="paper",
        xanchor="center", yanchor="middle", showarrow=False,
        font=dict(family=FONT, size=19, color=TXT)))
    layout["annotations"].append(dict(
        text=X_TITLE,
        x=((x0 + x1) / 2) / W, y=1 - XTITLE_Y[r] / H, xref="paper", yref="paper",
        xanchor="center", yanchor="middle", showarrow=False,
        font=dict(family=FONT, size=19, color=TXT)))

for c, lab in enumerate(PANEL_LABELS):
    cx = [288, 918.6, 1553][c]
    layout["annotations"].append(dict(
        text=lab, x=cx / W, y=1 - LABEL_Y / H, xref="paper", yref="paper",
        xanchor="center", yanchor="middle", showarrow=False,
        font=dict(family="Liberation Serif", size=21, color="black")))

fig.update_layout(**layout)
PIN_JS = (
    "document.documentElement.style.margin='0';"
    "document.body.style.margin='0';"
    "document.body.style.overflow='hidden';"
    "var d=document.getElementById('{plot_id}');"
    "d.style.position='fixed';d.style.left='0px';d.style.top='0px';"
)
fig.write_html("out.html", post_script=PIN_JS,
               config={"displayModeBar": False, "responsive": False})
